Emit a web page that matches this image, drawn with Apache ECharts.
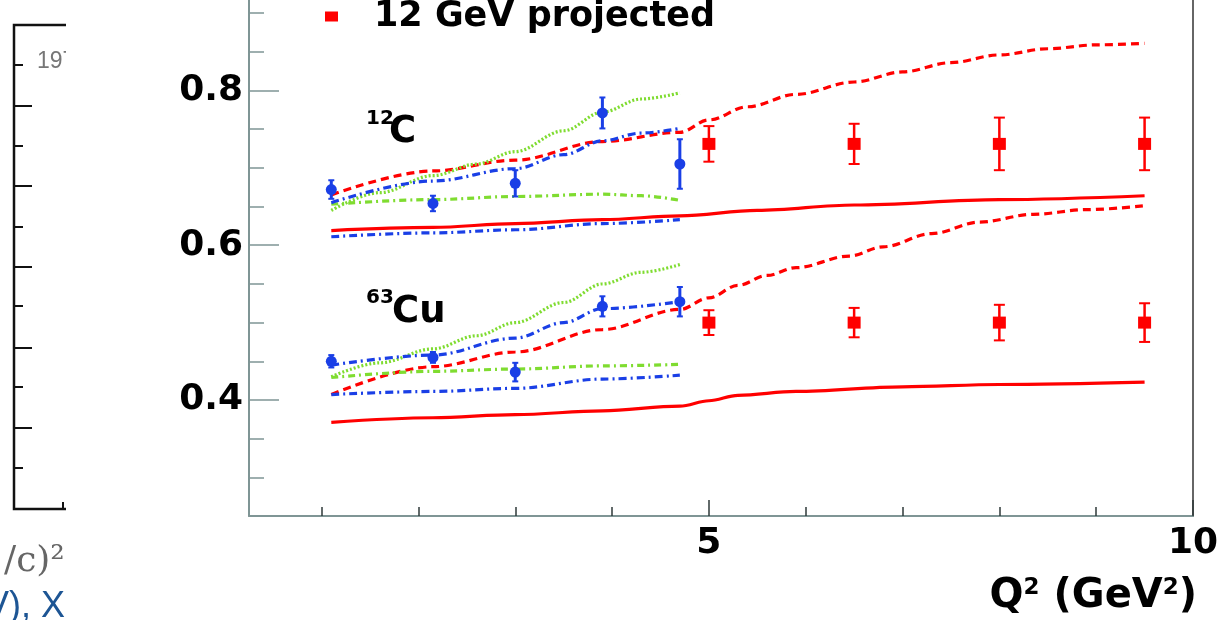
<!DOCTYPE html>
<html>
<head>
<meta charset="utf-8">
<script src="https://cdn.jsdelivr.net/npm/echarts@6/dist/echarts.min.js"></script>
<style>
html,body{margin:0;padding:0;background:#fff;}
#chart{width:1223px;height:620px;}
</style>
</head>
<body>
<div id="chart"></div>
<script>
// ---- data ----
const q2Data = [1.1, 2.15, 3.0, 3.9, 4.7];
const cData = [0.672, 0.654, 0.680, 0.771, 0.705];
const cErr = [0.012, 0.010, 0.017, 0.020, 0.032];
const cuData = [0.450, 0.455, 0.436, 0.521, 0.527];
const cuErr = [0.008, 0.007, 0.012, 0.013, 0.019];

const q2Proj = [5.0, 6.5, 8.0, 9.5];
const cProj = [0.731, 0.731, 0.731, 0.731];
const cProjErr = [0.023, 0.026, 0.034, 0.034];
const cuProj = [0.50, 0.50, 0.50, 0.50];
const cuProjErr = [0.016, 0.019, 0.023, 0.025];

const cRedDash = [[1.1,0.665],[2.15,0.696],[3.0,0.710],[3.9,0.734],[4.7,0.746],[5.0,0.762],[5.4,0.779],[5.9,0.795],[6.5,0.811],[7.0,0.824],[7.5,0.836],[8.0,0.846],[8.5,0.854],[9.0,0.859],[9.5,0.861]];
const cRedSolid = [[1.1,0.619],[2.15,0.623],[3.0,0.628],[3.9,0.633],[4.7,0.638],[5.5,0.645],[6.5,0.652],[8.0,0.659],[9.5,0.664]];
const cGreenDot = [[1.1,0.645],[1.6,0.668],[2.15,0.690],[2.6,0.705],[3.0,0.721],[3.5,0.748],[3.9,0.772],[4.3,0.789],[4.7,0.797]];
const cGreenDashDot = [[1.1,0.653],[2.15,0.659],[3.0,0.663],[3.9,0.666],[4.3,0.664],[4.7,0.658]];
const cBlueUpper = [[1.1,0.655],[2.15,0.683],[3.0,0.699],[3.5,0.717],[3.9,0.735],[4.3,0.745],[4.7,0.751]];
const cBlueLower = [[1.1,0.611],[2.15,0.616],[3.0,0.620],[3.9,0.628],[4.7,0.633]];

const cuRedDash = [[1.1,0.407],[2.15,0.443],[3.0,0.462],[3.9,0.491],[4.7,0.517],[5.0,0.532],[5.3,0.548],[5.6,0.561],[5.9,0.571],[6.45,0.586],[6.8,0.598],[7.3,0.615],[7.8,0.630],[8.35,0.640],[8.9,0.646],[9.5,0.651]];
const cuRedSolid = [[1.1,0.371],[2.15,0.377],[3.0,0.381],[3.9,0.386],[4.7,0.392],[5.0,0.399],[5.3,0.406],[5.9,0.411],[7.0,0.417],[8.0,0.420],[9.5,0.423]];
const cuGreenDot = [[1.1,0.430],[1.6,0.448],[2.15,0.466],[2.6,0.483],[3.0,0.500],[3.5,0.526],[3.9,0.550],[4.3,0.565],[4.7,0.575]];
const cuGreenDashDot = [[1.1,0.429],[2.15,0.437],[3.0,0.440],[3.9,0.444],[4.7,0.446]];
const cuBlueUpper = [[1.1,0.445],[2.15,0.458],[3.0,0.480],[3.5,0.500],[3.9,0.518],[4.7,0.527]];
const cuBlueLower = [[1.1,0.407],[2.15,0.411],[3.0,0.415],[3.9,0.427],[4.7,0.432]];

const xMinorTicks = [1, 2, 3, 4, 6, 7, 8, 9];
const xMajorTicks = [5, 10];
const yMinorTicks = [0.3, 0.35, 0.45, 0.5, 0.55, 0.65, 0.7, 0.75, 0.85, 0.9];
const yMajorTicks = [0.4, 0.6, 0.8];
const legendLabel = '12 GeV projected';

// ---- style ----
const RED = '#ff0000', BLUE = '#1a3fe6', GREEN = '#7fdc30';
const AXIS = '#7f9595';
const FONT = 'DejaVu Sans';
const Y_MIN = 0.25, Y_MAX = 0.917, X_MIN = 0.25, X_MAX = 10;

function curve(data, color, dash, z) {
  return {
    type: 'line', data: data, showSymbol: false, smooth: 0.35, smoothMonotone: 'x',
    silent: true, z: z || 2,
    lineStyle: { color: color, width: 3.2, type: dash, cap: 'butt', opacity: 1 }
  };
}

function errBar(color, lw, capW) {
  return function (params, api) {
    const x = api.value(0), y = api.value(1), e = api.value(2);
    const t = api.coord([x, y + e]);
    const b = api.coord([x, y - e]);
    const st = { stroke: color, lineWidth: lw };
    const ch = [{ type: 'line', shape: { x1: t[0], y1: t[1], x2: b[0], y2: b[1] }, style: st }];
    if (capW) {
      ch.push({ type: 'line', shape: { x1: t[0] - capW / 2, y1: t[1], x2: t[0] + capW / 2, y2: t[1] }, style: { stroke: color, lineWidth: 2 } });
      ch.push({ type: 'line', shape: { x1: b[0] - capW / 2, y1: b[1], x2: b[0] + capW / 2, y2: b[1] }, style: { stroke: color, lineWidth: 2 } });
    }
    return { type: 'group', children: ch };
  };
}

function errSeries(xs, ys, es, color, lw, capW) {
  return {
    type: 'custom', renderItem: errBar(color, lw, capW), z: 4, silent: true,
    data: xs.map((q, i) => [q, ys[i], es[i]]), encode: { x: 0, y: 1 }
  };
}

const chart = echarts.init(document.getElementById('chart'), null, { renderer: 'canvas' });

const yBase = { type: 'value', min: Y_MIN, max: Y_MAX, position: 'left', splitLine: { show: false } };
const xBase = { type: 'value', min: X_MIN, max: X_MAX, position: 'bottom', splitLine: { show: false } };

const option = {
  animation: false,
  backgroundColor: '#ffffff',
  grid: { left: 249, right: 30, top: 0, bottom: 104, show: false },
  legend: {
    data: [legendLabel], left: 320, top: -6,
    icon: 'rect', itemWidth: 13, itemHeight: 10,
    itemStyle: { color: RED, opacity: 1 },
    textStyle: { fontFamily: FONT, fontWeight: 'bold', fontSize: 35, color: '#000', padding: [0, 0, 0, 31] },
    selectedMode: false
  },
  xAxis: [
    Object.assign({}, xBase, {
      axisLine: { show: true, lineStyle: { color: AXIS, width: 2 } },
      axisTick: { show: true, inside: true, length: 9, customValues: xMinorTicks, lineStyle: { color: '#2f3a3a', width: 1.5 } },
      axisLabel: { show: true, customValues: xMajorTicks, margin: 10, fontFamily: FONT, fontWeight: 'bold', fontSize: 36, color: '#000' },
      name: 'Q{s|2} (GeV{s|2})', nameLocation: 'end', nameGap: 4,
      nameTextStyle: {
        align: 'right', verticalAlign: 'top', padding: [61, 0, 0, 0],
        fontFamily: FONT, fontWeight: 'bold', fontSize: 40, color: '#000',
        rich: { s: { fontFamily: FONT, fontWeight: 'bold', fontSize: 23, verticalAlign: 'top', color: '#000' } }
      }
    }),
    Object.assign({}, xBase, {
      axisLine: { show: false },
      axisTick: { show: true, inside: true, length: 16, customValues: xMajorTicks, lineStyle: { color: '#2f3a3a', width: 1.5 } },
      axisLabel: { show: false }
    })
  ],
  yAxis: [
    Object.assign({}, yBase, {
      axisLine: { show: true, lineStyle: { color: AXIS, width: 2 } },
      axisTick: { show: true, inside: true, length: 15, customValues: yMinorTicks, lineStyle: { color: AXIS, width: 1.5 } },
      axisLabel: { show: true, customValues: yMajorTicks, margin: 6, fontFamily: FONT, fontWeight: 'bold', fontSize: 36, color: '#000',
        formatter: v => v.toFixed(1) }
    }),
    Object.assign({}, yBase, {
      axisLine: { show: false },
      axisTick: { show: true, inside: true, length: 30, customValues: yMajorTicks, lineStyle: { color: AXIS, width: 1.5 } },
      axisLabel: { show: false }
    }),
    Object.assign({}, yBase, {
      position: 'right',
      axisLine: { show: true, lineStyle: { color: '#666', width: 2 } },
      axisTick: { show: false }, axisLabel: { show: false }
    })
  ],
  graphic: [
    // partial neighbouring panel on the left (cropped)
    { type: 'polyline', z: 1, shape: { points: [[70, 25], [14, 25], [14, 509], [70, 509]] }, style: { stroke: '#111', lineWidth: 2.5, fill: null } },
    { type: 'line', z: 1, shape: { x1: 14, y1: 65, x2: 23, y2: 65 }, style: { stroke: '#111', lineWidth: 2 } },
    { type: 'line', z: 1, shape: { x1: 14, y1: 106, x2: 32, y2: 106 }, style: { stroke: '#111', lineWidth: 2 } },
    { type: 'line', z: 1, shape: { x1: 14, y1: 146, x2: 23, y2: 146 }, style: { stroke: '#111', lineWidth: 2 } },
    { type: 'line', z: 1, shape: { x1: 14, y1: 186, x2: 32, y2: 186 }, style: { stroke: '#111', lineWidth: 2 } },
    { type: 'line', z: 1, shape: { x1: 14, y1: 227, x2: 23, y2: 227 }, style: { stroke: '#111', lineWidth: 2 } },
    { type: 'line', z: 1, shape: { x1: 14, y1: 267, x2: 32, y2: 267 }, style: { stroke: '#111', lineWidth: 2 } },
    { type: 'line', z: 1, shape: { x1: 14, y1: 306, x2: 23, y2: 306 }, style: { stroke: '#111', lineWidth: 2 } },
    { type: 'line', z: 1, shape: { x1: 14, y1: 348, x2: 32, y2: 348 }, style: { stroke: '#111', lineWidth: 2 } },
    { type: 'line', z: 1, shape: { x1: 14, y1: 387, x2: 23, y2: 387 }, style: { stroke: '#111', lineWidth: 2 } },
    { type: 'line', z: 1, shape: { x1: 14, y1: 428, x2: 32, y2: 428 }, style: { stroke: '#111', lineWidth: 2 } },
    { type: 'line', z: 1, shape: { x1: 14, y1: 468, x2: 23, y2: 468 }, style: { stroke: '#111', lineWidth: 2 } },
    { type: 'line', z: 1, shape: { x1: 63, y1: 509, x2: 63, y2: 502 }, style: { stroke: '#111', lineWidth: 2 } },
    { type: 'text', z: 1, x: 37, y: 62, style: { text: '197', fontFamily: 'Liberation Sans', fontSize: 23, fill: '#777', verticalAlign: 'middle' } },
    { type: 'text', z: 1, x: 4, y: 562, style: { text: '/c)²', fontFamily: 'DejaVu Serif', fontSize: 36, fill: '#666', verticalAlign: 'middle' } },
    { type: 'text', z: 1, x: -15, y: 607, style: { text: 'V), X', fontFamily: 'Liberation Sans', fontSize: 36, fill: '#1d5594', verticalAlign: 'middle' } },
    // crop mask for neighbouring panel
    { type: 'rect', z: 2, shape: { x: 66, y: 0, width: 95, height: 620 }, style: { fill: '#fff' } },
    // nucleus labels
    { type: 'text', z: 10, x: 366, y: 109, style: { text: '12', verticalAlign: 'top', fontFamily: FONT, fontWeight: 'bold', fontSize: 20, fill: '#000' } },
    { type: 'text', z: 10, x: 389, y: 132, style: { text: 'C', verticalAlign: 'middle', fontFamily: FONT, fontWeight: 'bold', fontSize: 37, fill: '#000' } },
    { type: 'text', z: 10, x: 366, y: 288, style: { text: '63', verticalAlign: 'top', fontFamily: FONT, fontWeight: 'bold', fontSize: 20, fill: '#000' } },
    { type: 'text', z: 10, x: 392, y: 312, style: { text: 'Cu', verticalAlign: 'middle', fontFamily: FONT, fontWeight: 'bold', fontSize: 37, fill: '#000' } }
  ],
  series: [
    curve(cRedSolid, RED, 'solid'),
    curve(cRedDash, RED, [8, 5]),
    curve(cGreenDot, GREEN, [2, 2]),
    curve(cGreenDashDot, GREEN, [7, 4, 2, 4]),
    curve(cBlueUpper, BLUE, [8, 4, 2, 4]),
    curve(cBlueLower, BLUE, [8, 4, 2, 4]),
    curve(cuRedSolid, RED, 'solid'),
    curve(cuRedDash, RED, [8, 5]),
    curve(cuGreenDot, GREEN, [2, 2]),
    curve(cuGreenDashDot, GREEN, [7, 4, 2, 4]),
    curve(cuBlueUpper, BLUE, [8, 4, 2, 4]),
    curve(cuBlueLower, BLUE, [8, 4, 2, 4]),
    errSeries(q2Data, cData, cErr, BLUE, 3, 6),
    errSeries(q2Data, cuData, cuErr, BLUE, 3, 6),
    errSeries(q2Proj, cProj, cProjErr, RED, 2.5, 11),
    errSeries(q2Proj, cuProj, cuProjErr, RED, 2.5, 11),
    { type: 'scatter', name: 'C data', data: q2Data.map((q, i) => [q, cData[i]]), symbol: 'circle', symbolSize: 11, itemStyle: { color: BLUE, opacity: 1 }, z: 5, silent: true },
    { type: 'scatter', name: 'Cu data', data: q2Data.map((q, i) => [q, cuData[i]]), symbol: 'circle', symbolSize: 11, itemStyle: { color: BLUE, opacity: 1 }, z: 5, silent: true },
    { type: 'scatter', name: legendLabel, data: q2Proj.map((q, i) => [q, cProj[i]]), symbol: 'rect', symbolSize: [13, 12], itemStyle: { color: RED, opacity: 1 }, z: 5, silent: true },
    { type: 'scatter', name: legendLabel, data: q2Proj.map((q, i) => [q, cuProj[i]]), symbol: 'rect', symbolSize: [13, 12], itemStyle: { color: RED, opacity: 1 }, z: 5, silent: true }
  ]
};
chart.setOption(option);
</script>
</body>
</html>
